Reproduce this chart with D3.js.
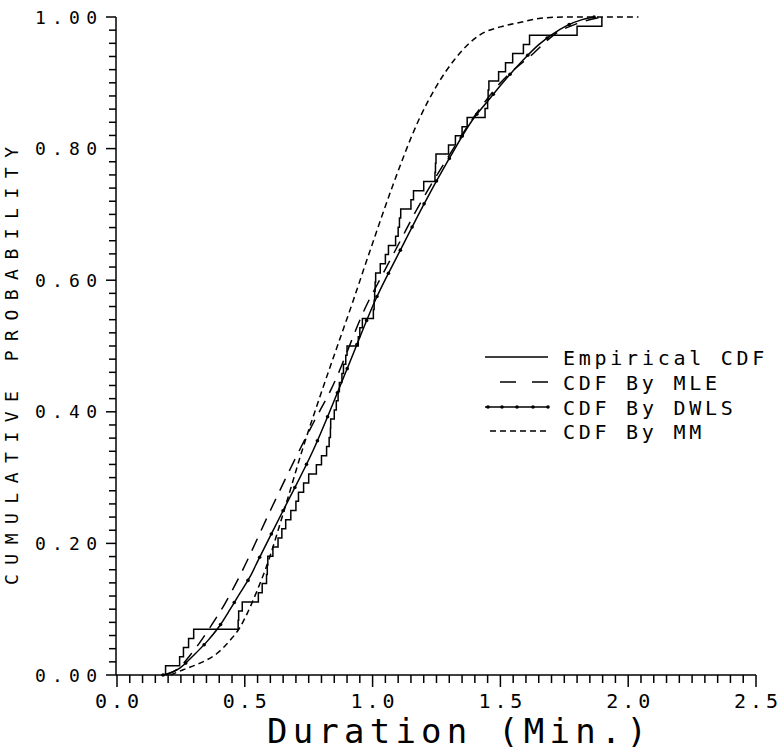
<!DOCTYPE html>
<html><head><meta charset="utf-8">
<script src="https://cdn.jsdelivr.net/npm/d3@7"></script>
<style>
html,body{margin:0;padding:0;background:#fff;}
svg text{font-family:"DejaVu Sans Mono",monospace;fill:#000;}
</style></head>
<body><svg id="chart" width="782" height="754"></svg>
<script>
// ---- data ----
const empiricalDurations = [0.19,0.245,0.26,0.28,0.30,0.474,0.476,0.49,0.553,0.568,0.585,0.588,0.59,0.61,0.63,0.645,0.66,0.68,0.70,0.71,0.73,0.75,0.78,0.80,0.82,0.83,0.835,0.836,0.85,0.858,0.865,0.87,0.88,0.886,0.895,0.90,0.944,0.95,0.96,1.003,1.006,1.008,1.01,1.012,1.03,1.05,1.062,1.09,1.10,1.105,1.11,1.15,1.16,1.20,1.244,1.246,1.248,1.297,1.324,1.35,1.37,1.44,1.45,1.452,1.455,1.493,1.52,1.548,1.59,1.614,1.80,1.897];

const mleDur = [0.19,0.247,0.286,0.325,0.353,0.423,0.482,0.6,0.68,0.768,0.84,0.98,1.034,1.11,1.168,1.3,1.4,1.5,1.63,1.71,1.8,1.9];
const mleProb = [0,0.012,0.03,0.05,0.066,0.109,0.152,0.25,0.315,0.383,0.436,0.565,0.605,0.661,0.704,0.79,0.85,0.9,0.945,0.973,0.99,1.0];

const dwlsDur = [0.18,0.247,0.30,0.357,0.404,0.443,0.474,0.52,0.553,0.65,0.768,0.9,1.011,1.109,1.2,1.3,1.39,1.45,1.52,1.59,1.65,1.70,1.76,1.82,1.87];
const dwlsProb = [0,0.011,0.03,0.053,0.076,0.1,0.12,0.149,0.175,0.25,0.342,0.465,0.57,0.646,0.715,0.785,0.843,0.872,0.905,0.935,0.958,0.973,0.987,0.996,1.0];

const mmDur = [0.21,0.259,0.325,0.392,0.443,0.482,0.51,0.549,0.584,0.65,0.725,0.8,0.925,0.991,1.08,1.18,1.25,1.32,1.42,1.50,1.58,1.657,1.75,2.04];
const mmProb = [0,0.008,0.018,0.033,0.053,0.073,0.094,0.129,0.164,0.245,0.342,0.43,0.57,0.646,0.745,0.843,0.895,0.935,0.973,0.985,0.992,0.998,1.0,1.0];

const xMajorTicks = [0,0.5,1.0,1.5,2.0,2.5];
const xTickLabels = ["0.0","0.5","1.0","1.5","2.0","2.5"];
const yMajorTicks = [0,0.2,0.4,0.6,0.8,1.0];
const yTickLabels = ["0.00","0.20","0.40","0.60","0.80","1.00"];
const legendLabels = ["Empirical CDF","CDF By MLE","CDF By DWLS","CDF By MM"];
const xTitle = "Duration (Min.)";
const yTitle = "CUMULATIVE PROBABILITY";

// ---- drawing ----
const svg = d3.select("#chart");
const x = d3.scaleLinear().domain([0,2.5]).range([117,756]);
const y = d3.scaleLinear().domain([0,1]).range([675,17]);

const xMinor = d3.range(0,51).map(i=>i*0.05).filter(v=>Math.abs(v*2-Math.round(v*2))>1e-6);
const yMinor = d3.range(0,51).map(i=>i*0.02).filter(v=>Math.abs(v*5-Math.round(v*5))>1e-6);

const axisG = svg.append("g").attr("stroke","#000").attr("stroke-width",1.5).attr("fill","none");
// axis lines
axisG.append("line").attr("x1",x(0)-1).attr("x2",x(2.5)).attr("y1",y(0)).attr("y2",y(0));
axisG.append("line").attr("x1",x(0)-1).attr("x2",x(0)-1).attr("y1",y(0)).attr("y2",y(1));
// x ticks
axisG.selectAll(".xm").data(xMinor).join("line")
  .attr("x1",d=>x(d)).attr("x2",d=>x(d)).attr("y1",y(0)).attr("y2",y(0)+8);
axisG.selectAll(".xM").data(xMajorTicks).join("line")
  .attr("x1",d=>x(d)).attr("x2",d=>x(d)).attr("y1",y(0)).attr("y2",y(0)+12);
// y ticks
axisG.selectAll(".ym").data(yMinor).join("line")
  .attr("x1",x(0)-1).attr("x2",x(0)-8).attr("y1",d=>y(d)).attr("y2",d=>y(d));
axisG.selectAll(".yM").data(yMajorTicks).join("line")
  .attr("x1",x(0)-1).attr("x2",x(0)-11).attr("y1",d=>y(d)).attr("y2",d=>y(d));

// tick labels
svg.append("g").selectAll("text").data(xMajorTicks).join("text")
  .attr("x",d=>x(d)).attr("y",y(0)+33).attr("text-anchor","middle")
  .attr("font-size",20).attr("textLength",44).attr("lengthAdjust","spacing")
  .text((d,i)=>xTickLabels[i]);
svg.append("g").selectAll("text").data(yMajorTicks).join("text")
  .attr("x",97).attr("y",d=>y(d)+6.5).attr("text-anchor","end")
  .attr("font-size",18).attr("textLength",62).attr("lengthAdjust","spacing")
  .text((d,i)=>yTickLabels[i]);

// titles
svg.append("text").attr("x",457).attr("y",743).attr("text-anchor","middle")
  .attr("font-size",34).attr("textLength",380).attr("lengthAdjust","spacing").text(xTitle);
svg.append("text").attr("transform","translate(18,366) rotate(-90)").attr("text-anchor","middle")
  .attr("font-size",18).attr("textLength",438).attr("lengthAdjust","spacing").text(yTitle);

// empirical step CDF
const n = empiricalDurations.length;
const empPts = [[empiricalDurations[0],0]].concat(empiricalDurations.map((d,i)=>[d,(i+1)/n]));
const stepLine = d3.line().x(d=>x(d[0])).y(d=>y(d[1])).curve(d3.curveStepAfter);
svg.append("path").datum(empPts).attr("d",stepLine)
  .attr("fill","none").attr("stroke","#000").attr("stroke-width",1.5);

const smooth = d3.line().x(d=>x(d[0])).y(d=>y(d[1])).curve(d3.curveMonotoneX);
const zip = (a,b)=>a.map((v,i)=>[v,b[i]]);

svg.append("path").datum(zip(mleDur,mleProb)).attr("d",smooth)
  .attr("fill","none").attr("stroke","#000").attr("stroke-width",1.5).attr("stroke-dasharray","13,9");
const dwlsPath = svg.append("path").datum(zip(dwlsDur,dwlsProb)).attr("d",smooth)
  .attr("fill","none").attr("stroke","#000").attr("stroke-width",1.5);
svg.append("path").datum(zip(mmDur,mmProb)).attr("d",smooth)
  .attr("fill","none").attr("stroke","#000").attr("stroke-width",1.5).attr("stroke-dasharray","6,4");

// DWLS markers along the curve
const node = dwlsPath.node();
const L = node.getTotalLength();
const markers = d3.range(0, L, 26).map(l=>node.getPointAtLength(l));
svg.append("g").selectAll("circle").data(markers).join("circle")
  .attr("cx",d=>d.x).attr("cy",d=>d.y).attr("r",1.8).attr("fill","#000");

// legend
const lg = svg.append("g");
const rowY = [357,382,407,431];
lg.append("line").attr("x1",485).attr("x2",548).attr("y1",rowY[0]).attr("y2",rowY[0]).attr("stroke","#000").attr("stroke-width",1.5);
lg.append("line").attr("x1",500).attr("x2",548).attr("y1",rowY[1]).attr("y2",rowY[1]).attr("stroke","#000").attr("stroke-width",1.5).attr("stroke-dasharray","16,16");
lg.append("line").attr("x1",485).attr("x2",548).attr("y1",rowY[2]).attr("y2",rowY[2]).attr("stroke","#000").attr("stroke-width",1.5);
lg.selectAll(".ld").data([488,502,517,533,548]).join("circle")
  .attr("cx",d=>d).attr("cy",rowY[2]).attr("r",1.8).attr("fill","#000");
lg.append("line").attr("x1",490).attr("x2",548).attr("y1",rowY[3]).attr("y2",rowY[3]).attr("stroke","#000").attr("stroke-width",1.5).attr("stroke-dasharray","6,4");
lg.selectAll("text").data(legendLabels).join("text")
  .attr("x",563).attr("y",(d,i)=>rowY[i]+8).attr("font-size",20)
  .attr("textLength",d=>d.length*15.8-4).attr("lengthAdjust","spacing")
  .text(d=>d);
</script></body></html>
